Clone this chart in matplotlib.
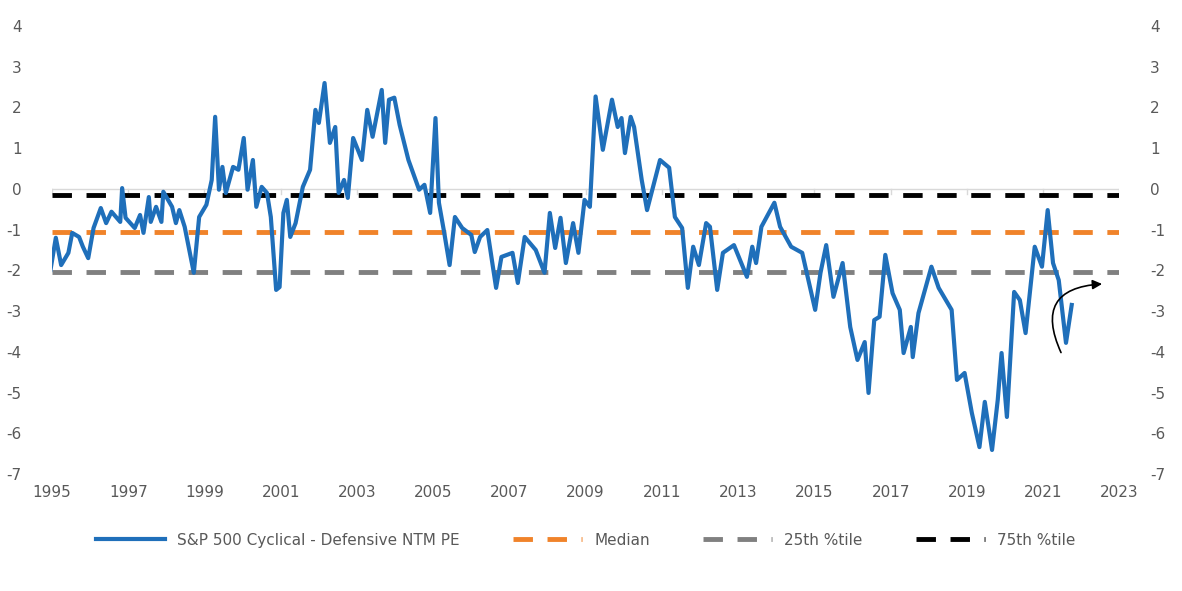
import matplotlib.pyplot as plt
from matplotlib.patches import FancyArrowPatch

plt.rcParams['axes.unicode_minus'] = False

years = [1994.96, 1995.10, 1995.24, 1995.43, 1995.53, 1995.71, 1995.81, 1995.95, 1996.09, 1996.28,
         1996.42, 1996.56, 1996.79, 1996.84, 1996.93, 1997.17, 1997.31, 1997.40, 1997.54, 1997.59,
         1997.73, 1997.87, 1997.92, 1998.15, 1998.25, 1998.34, 1998.48, 1998.72, 1998.86, 1999.05,
         1999.19, 1999.28, 1999.38, 1999.47, 1999.56, 1999.75, 1999.89, 2000.03, 2000.13, 2000.27,
         2000.36, 2000.50, 2000.64, 2000.74, 2000.88, 2000.97, 2001.07, 2001.16, 2001.25, 2001.39,
         2001.58, 2001.77, 2001.91, 2002.00, 2002.15, 2002.29, 2002.43, 2002.52, 2002.66, 2002.76,
         2002.90, 2003.13, 2003.27, 2003.41, 2003.65, 2003.74, 2003.84, 2003.98, 2004.12, 2004.35,
         2004.63, 2004.77, 2004.92, 2005.06, 2005.15, 2005.29, 2005.43, 2005.57, 2005.76, 2006.00,
         2006.09, 2006.23, 2006.42, 2006.65, 2006.79, 2007.08, 2007.22, 2007.40, 2007.69, 2007.92,
         2008.06, 2008.20, 2008.34, 2008.48, 2008.67, 2008.81,
         2008.97, 2009.11, 2009.26, 2009.45, 2009.69, 2009.84, 2009.94, 2010.03, 2010.18, 2010.27,
         2010.47, 2010.61, 2010.95, 2011.19, 2011.34, 2011.53, 2011.68, 2011.82, 2011.97, 2012.16,
         2012.26, 2012.45, 2012.60, 2012.89, 2013.23, 2013.37, 2013.47, 2013.61, 2013.95, 2014.10,
         2014.39, 2014.68, 2015.02, 2015.16, 2015.31, 2015.50, 2015.74, 2015.94, 2016.13, 2016.32,
         2016.42, 2016.57, 2016.71, 2016.86, 2017.05, 2017.24, 2017.34, 2017.53, 2017.58, 2017.73,
         2017.92, 2018.07, 2018.26, 2018.60, 2018.74, 2018.94, 2019.13, 2019.33, 2019.47, 2019.66,
         2019.81, 2019.91, 2020.05, 2020.24, 2020.39, 2020.54, 2020.78, 2020.97, 2021.12, 2021.26,
         2021.41, 2021.60, 2021.75]
pe_diff = [-1.99, -1.20, -1.87, -1.57, -1.08, -1.18, -1.42, -1.70, -0.96, -0.47,
           -0.84, -0.56, -0.81, 0.02, -0.71, -0.96, -0.64, -1.08, -0.20, -0.81,
           -0.44, -0.81, -0.07, -0.44, -0.84, -0.52, -0.93, -2.06, -0.69, -0.39,
           0.22, 1.77, -0.02, 0.54, -0.10, 0.54, 0.47, 1.25, -0.02, 0.71,
           -0.44, 0.05, -0.10, -0.69, -2.48, -2.41, -0.59, -0.27, -1.18, -0.84,
           0.05, 0.47, 1.94, 1.62, 2.60, 1.13, 1.52, -0.10, 0.22, -0.22,
           1.25, 0.71, 1.94, 1.28, 2.43, 1.13, 2.19, 2.24, 1.57, 0.71,
           -0.02, 0.10, -0.59, 1.74, -0.34, -1.08, -1.87, -0.69, -0.96, -1.13,
           -1.55, -1.18, -1.01, -2.43, -1.67, -1.57, -2.31, -1.18, -1.50, -2.06,
           -0.59, -1.45, -0.71, -1.82, -0.84, -1.57,
           -0.27, -0.44, 2.27, 0.96, 2.19, 1.52, 1.74, 0.88, 1.77, 1.52,
           0.22, -0.52, 0.71, 0.52, -0.69, -0.96, -2.43, -1.42, -1.87, -0.84,
           -0.93, -2.48, -1.57, -1.38, -2.16, -1.42, -1.82, -0.93, -0.34, -0.93,
           -1.42, -1.57, -2.97, -2.06, -1.38, -2.65, -1.82, -3.39, -4.20, -3.76,
           -5.01, -3.22, -3.14, -1.62, -2.56, -2.97, -4.03, -3.39, -4.13, -3.05,
           -2.41, -1.91, -2.43, -2.97, -4.69, -4.52, -5.50, -6.34, -5.23, -6.41,
           -5.18, -4.03, -5.60, -2.53, -2.73, -3.54, -1.42, -1.91, -0.52, -1.82,
           -2.24, -3.78, -2.85]
median = -1.05
pct25 = -2.05
pct75 = -0.15
x_ticks = list(range(1995, 2024, 2))
y_ticks = list(range(-7, 5))

fig = plt.figure(figsize=(11.82, 5.91), dpi=100)
ax = fig.add_axes([0.044, 0.198, 0.903, 0.758])

ax.axhline(0, color='#d9d9d9', lw=1, zorder=1)
for xt in x_ticks:
    ax.plot([xt, xt], [0, -0.12], color='#d9d9d9', lw=1, zorder=1)

ax.plot(years, pe_diff, color='#1f6fba', lw=3, label='S&P 500 Cyclical - Defensive NTM PE', zorder=3)
ax.plot([1995, 2023], [median] * 2, color='#f0832a', lw=3.5, ls=(0, (4, 3)), label='Median', zorder=2)
ax.plot([1995, 2023], [pct25] * 2, color='#808080', lw=3.5, ls=(0, (4, 3)), label='25th %tile', zorder=2)
ax.plot([1995, 2023], [pct75] * 2, color='#000000', lw=3.5, ls=(0, (4, 3)), label='75th %tile', zorder=2)

arrow = FancyArrowPatch((2021.5, -4.08), (2022.62, -2.33), connectionstyle='arc3,rad=-0.75',
                        arrowstyle='-|>', mutation_scale=14, color='black', lw=1.2, zorder=4)
ax.add_patch(arrow)

ax.set_xlim(1995, 2023)
ax.set_ylim(-7, 4)
ax.set_xticks(x_ticks)
ax.set_yticks(y_ticks)
for s in ax.spines.values():
    s.set_visible(False)
ax.tick_params(length=0, labelsize=11, colors='#595959', pad=8)
ax.tick_params(axis='y', labelright=True, pad=22)

leg = ax.legend(loc='upper center', bbox_to_anchor=(0.5, -0.1), ncol=4, frameon=False,
                fontsize=11, handlelength=4.5, columnspacing=3.5)
for t in leg.get_texts():
    t.set_color('#595959')

fig.savefig('out.png')
